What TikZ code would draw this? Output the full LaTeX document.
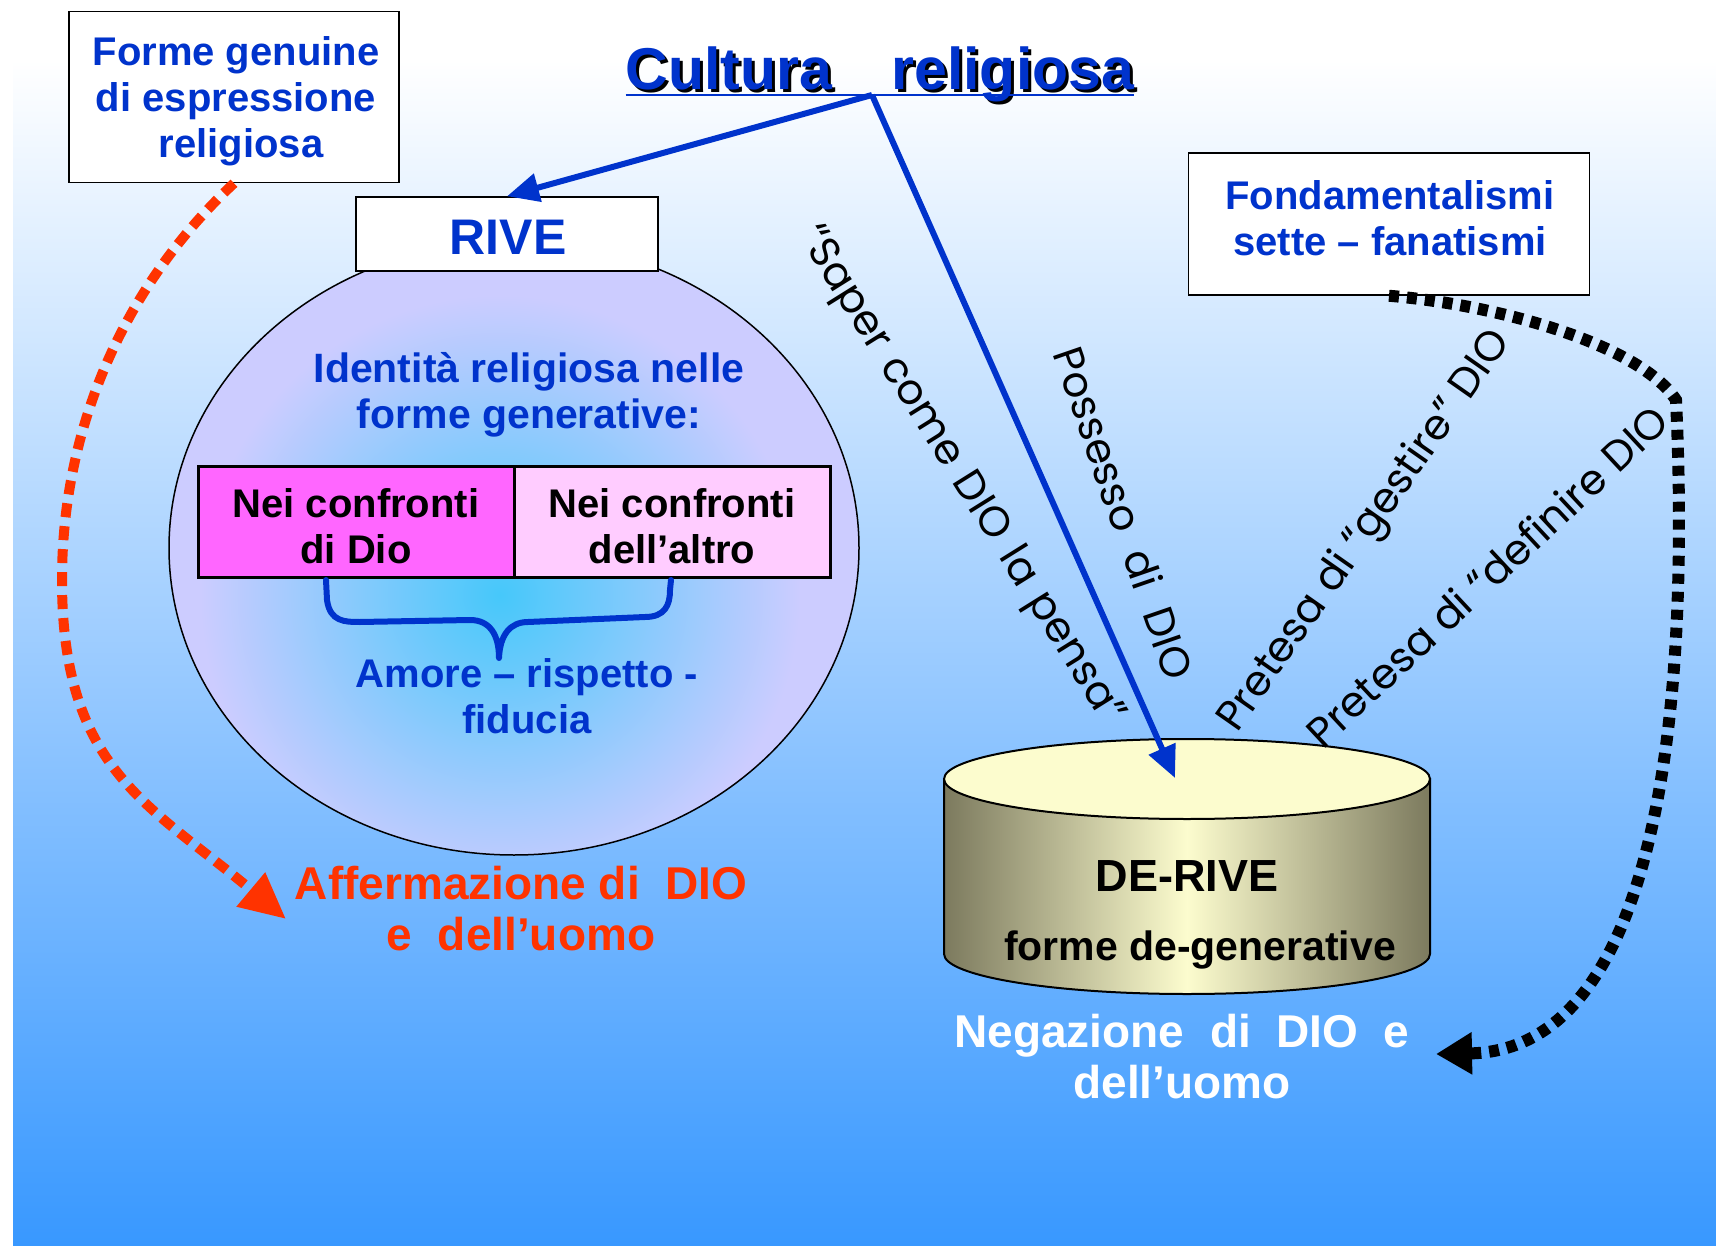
\documentclass[tikz,border=0pt]{standalone}
\usepackage{fontspec}
\setmainfont{Liberation Sans}
\newfontfamily\gothic{Poppins}
\usetikzlibrary{arrows.meta,positioning}

\definecolor{titleblue}{RGB}{0,51,204}
\definecolor{bgblue}{RGB}{56,152,255}
\definecolor{afferred}{RGB}{255,51,0}
\definecolor{lavender}{RGB}{204,204,255}
\definecolor{glow}{RGB}{70,200,250}
\definecolor{dioMagenta}{RGB}{255,102,255}
\definecolor{altroPink}{RGB}{255,204,255}
\definecolor{cream}{RGB}{252,252,206}
\definecolor{olive}{RGB}{124,122,94}

\newcommand\fs[2]{\fontsize{#1}{#2}\selectfont}

\begin{document}
\begin{tikzpicture}[x=1pt, y=-1pt,
  labelbox/.style={draw=black, line width=1.5, fill=white, inner sep=0},
  bluetext/.style={text=titleblue, font=\bfseries\fs{40}{46}, align=center, inner sep=0},
  redtext/.style={text=afferred, font=\bfseries\fs{46}{51}, align=center, inner sep=0},
  whitetext/.style={text=white, font=\bfseries\fs{46}{51}, align=center, inner sep=0},
  blacktext/.style={text=black, align=center, inner sep=0},
  cell/.style={draw=black, line width=3, outer sep=0, inner sep=0,
    minimum width=316, minimum height=111},
  titletext/.style={font=\bfseries\fs{59}{64}, text=titleblue, inner sep=0, anchor=base},
  rottext/.style={font=\gothic\fs{42}{48}, inner sep=0},
  bluearrow/.style={titleblue, line width=6, -{Triangle[length=32pt,width=28pt]}},
  redarrow/.style={afferred, line width=10, dash pattern=on 14pt off 9pt,
    -{Triangle[length=46pt,width=42pt]}},
  blackarrow/.style={black, line width=12, dash pattern=on 10pt off 8pt,
    -{Triangle[length=36pt,width=40pt]}}]
  \useasboundingbox (0,0) rectangle (1716,1246);

  %background
  \fill[white] (0,0) rectangle (1716,1246);
  \shade[top color=white, bottom color=bgblue] (13,60) rectangle (1716,1246);

  %RIVE circle
  \begin{scope}
    \clip (514,548) ellipse [x radius=345, y radius=307];
    \fill[lavender] (150,230) rectangle (870,860);
    \shade[inner color=glow, outer color=lavender] (500,595) circle [radius=300];
  \end{scope}
  \draw[line width=1.5] (514,548) ellipse [x radius=345, y radius=307];

  \node[bluetext, font=\bfseries\fs{41}{46}] (identita) at (529,395) {Identità religiosa nelle\\forme generative:};

  %table
  \node[cell, fill=dioMagenta] (dio) at (356,522) {};
  \node[cell, fill=altroPink, right=0pt of dio] (altro) {};
  \node[blacktext, font=\bfseries\fs{40}{46}] (diotext) at ([yshift=-4pt]dio.center) {Nei confronti\\di Dio};
  \node[blacktext, font=\bfseries\fs{40}{46}] (altrotext) at ([yshift=-4pt]altro.center) {Nei confronti\\dell’altro};

  %brace
  \draw[titleblue, line width=6, line cap=round, line join=round]
    (326,580) -- (327,600) .. controls (330,622) and (345,622) .. (360,622) -- (470,620)
    .. controls (490,620) and (499,635) .. (499,658)
    .. controls (500,635) and (510,622) .. (528,622) -- (645,617)
    .. controls (665,617) and (670,605) .. (670,590) -- (671,580);

  \node[bluetext] (amore) at (527,696) {Amore – rispetto -\\fiducia};
  \node[redtext] (afferma) at (521,909) {Affermazione di\ \ DIO\\e\ \ dell’uomo};

  %boxes
  \node[labelbox, minimum width=302, minimum height=74] (rive) at (507,234) {};
  \node[bluetext, font=\bfseries\fs{50}{56}] (rivetext) at (508,237) {RIVE};
  \node[labelbox, minimum width=330, minimum height=171] (forme) at (234,97) {};
  \node[bluetext] (formetext) at (236,101) {Forme genuine\\di espressione\\\hspace{10pt}religiosa};
  \node[labelbox, minimum width=401, minimum height=142] (fond) at (1389,224) {};
  \node[bluetext] (fondtext) at (1390,218) {Fondamentalismi\\sette – fanatismi};

  %title
  \node[titletext, text=black] (culturashadow) at (883,93) {Cultura\hspace{1em}religiosa};
  \node[titletext] (cultura) at (880,90) {Cultura\hspace{1em}religiosa};
  \draw[titleblue, line width=2] ([yshift=-5pt]cultura.base west) -- ([yshift=-5pt]cultura.base east);

  %DE-RIVE cylinder
  \shade[left color=olive, right color=olive, middle color=cream, draw=black, line width=2]
    (944,779) -- (944,954) arc[start angle=180, end angle=0, x radius=243, y radius=40]
    -- (1430,779) -- cycle;
  \draw[fill=cream, line width=2] (1187,779) ellipse [x radius=243, y radius=40];
  \coordinate (drtop) at (1175,778);

  \node[blacktext, font=\bfseries\fs{45}{50}] (derive) at (1187,876) {DE-RIVE};
  \node[blacktext, font=\bfseries\fs{41}{46}] (degen) at (1200,950) {forme de-generative};
  \node[whitetext] (negazione) at (1182,1057) {Negazione\ \ di\ \ DIO\ \ e\\dell’uomo};

  %rotated labels
  \node[rottext, rotate=-58] (saper) at (960,476) {“Saper\hspace{0.35em}come\hspace{0.35em}DIO\hspace{0.35em}la\hspace{0.35em}pensa”};
  \node[rottext, rotate=-71] (possesso) at (1124,513) {Possesso\ \ di\ \ DIO};
  \node[rottext, rotate=55] (gestire) at (1366,532) {Pretesa di “gestire” DIO};
  \node[rottext, rotate=43] (definire) at (1487,576) {Pretesa di “definire DIO};

  %arrows
  \coordinate (apex) at (872,95);
  \draw[bluearrow] (apex) -- (rive.north);
  \draw[bluearrow] (apex) -- (drtop);

  \coordinate (afftip) at (286,919);
  \draw[redarrow] (forme.south) .. controls (130,280) and (62,420) .. (62,580)
    .. controls (62,770) and (150,805) .. (afftip);

  \coordinate (negtip) at (1436,1054);
  \draw[blackarrow] (fond.south) .. controls (1500,305) and (1640,345) .. (1676,400)
    .. controls (1690,700) and (1660,1050) .. (negtip);
\end{tikzpicture}
\end{document}
